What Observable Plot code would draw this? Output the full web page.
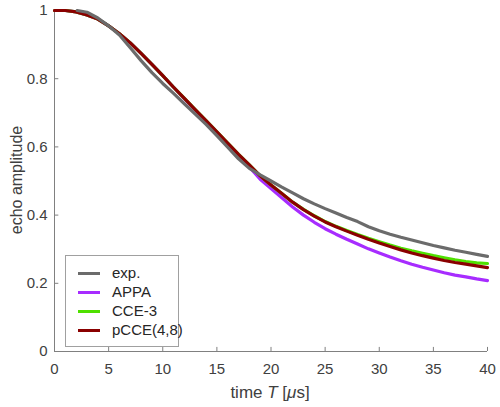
<!DOCTYPE html>
<html>
<head>
<meta charset="utf-8">
<script src="https://cdn.jsdelivr.net/npm/d3@7"></script>
<script src="https://cdn.jsdelivr.net/npm/@observablehq/plot@0.6"></script>
<style>
  body { margin: 0; background: #fff; }
  #wrap { position: relative; width: 500px; height: 407px; font-family: "Liberation Sans", Arial, sans-serif; }
  #legend { position: absolute; left: 65px; top: 255px; width: 114px; height: 92px; border: 1px solid #a0a0a0; background: #fff; box-sizing: border-box; }
  .row { position: absolute; left: 0; height: 18px; font-size: 15px; color: #262626; }
  .sw { position: absolute; left: 12px; top: 8px; width: 22px; height: 3px; }
  .lb { position: absolute; left: 46px; top: 0; line-height: 18px; white-space: nowrap; }
</style>
</head>
<body>
<div id="wrap"></div>
<script>
// time axis (μs)
const tTheory = [0,1,2,3,4,5,6,7,8,9,10,11,12,13,14,15,16,17,18,19,20,21,22,23,24,25,26,27,28,29,30,31,32,33,34,35,36,37,38,39,40];
const pcce = [1.0,1.0,0.996,0.987,0.975,0.955,0.932,0.905,0.874,0.842,0.809,0.775,0.742,0.709,0.677,0.644,0.611,0.578,0.547,0.515,0.488,0.463,0.438,0.416,0.397,0.380,0.366,0.353,0.341,0.329,0.318,0.308,0.298,0.289,0.281,0.274,0.267,0.261,0.256,0.251,0.246];
const cce3 = [1.0,1.0,0.996,0.987,0.975,0.955,0.932,0.905,0.874,0.842,0.809,0.775,0.742,0.709,0.677,0.644,0.611,0.578,0.547,0.515,0.488,0.463,0.438,0.417,0.398,0.381,0.367,0.355,0.343,0.332,0.322,0.312,0.303,0.295,0.288,0.281,0.275,0.269,0.264,0.260,0.258];
const appa = [1.0,1.0,0.996,0.987,0.975,0.955,0.932,0.905,0.874,0.842,0.809,0.775,0.741,0.708,0.675,0.642,0.608,0.574,0.541,0.505,0.478,0.451,0.424,0.400,0.379,0.360,0.344,0.329,0.315,0.301,0.289,0.277,0.266,0.256,0.247,0.239,0.231,0.224,0.219,0.213,0.208];
const tExp = [2.1,3,4,5,6,7,8,9,10,11,12,13,14,15,16,17,18,19,20,21,22,23,24,25,26,27,28,29,30,31,32,33,34,35,36,37,38,39,40];
const expv = [1.0,0.995,0.978,0.955,0.928,0.891,0.853,0.818,0.786,0.757,0.726,0.696,0.666,0.633,0.599,0.565,0.537,0.518,0.500,0.482,0.465,0.448,0.433,0.419,0.406,0.393,0.381,0.366,0.354,0.344,0.335,0.327,0.319,0.311,0.304,0.297,0.291,0.285,0.279];
const xTicks = [0,5,10,15,20,25,30,35,40];
const yTicks = [0,0.2,0.4,0.6,0.8,1];
const yTickLabels = ["0","0.2","0.4","0.6","0.8","1"];

const seriesNames = ["exp.","APPA","CCE-3","pCCE(4,8)"];
const seriesColors = ["#6b6b6b","#a72cff","#4fe000","#8a0000"];

const mk = (ts, vs) => ts.map((t, i) => ({t, v: vs[i]}));
const dExp = mk(tExp, expv), dAppa = mk(tTheory, appa), dCce = mk(tTheory, cce3), dP = mk(tTheory, pcce);

const chart = Plot.plot({
  width: 500, height: 407,
  marginLeft: 54, marginRight: 13, marginTop: 10, marginBottom: 56,
  style: {fontFamily: "Liberation Sans, Arial, sans-serif", color: "#333", background: "#fff"},
  x: {domain: [0, 40]},
  y: {domain: [0, 1]},
  marks: [
    Plot.axisX({ticks: xTicks, tickSize: 0, tickPadding: 12, label: null, fill: "#404040"}),
    Plot.axisY({ticks: yTicks, tickFormat: d => yTickLabels[yTicks.indexOf(d)], tickSize: 0, tickPadding: 7, label: null, fill: "#404040"}),
    Plot.ruleX(xTicks, {x: d => d, y1: 0, y2: 0.012, stroke: "#808080"}),
    Plot.ruleY(yTicks, {y: d => d, x1: 0, x2: 0.4, stroke: "#808080"}),
    Plot.ruleX([0], {stroke: "#808080"}),
    Plot.ruleY([0], {stroke: "#808080"}),
    Plot.line(dAppa, {x: "t", y: "v", stroke: seriesColors[1], strokeWidth: 3.2}),
    Plot.line(dCce, {x: "t", y: "v", stroke: seriesColors[2], strokeWidth: 3.2}),
    Plot.line(dP, {x: "t", y: "v", stroke: seriesColors[3], strokeWidth: 3.2}),
    Plot.line(dExp, {x: "t", y: "v", stroke: seriesColors[0], strokeWidth: 3.2})
  ]
});

const wrap = document.getElementById("wrap");
wrap.appendChild(chart);

const svg = d3.select(chart);
// enlarge tick labels
svg.selectAll("text").style("font-size", "15px");

// axis titles
const xl = svg.append("text").attr("x", 270).attr("y", 398).attr("text-anchor", "middle")
  .attr("fill", "#404040").style("font-size", "17px");
xl.append("tspan").text("time ");
xl.append("tspan").attr("font-style", "italic").text("T");
xl.append("tspan").text(" [");
xl.append("tspan").attr("font-style", "italic").text("μ");
xl.append("tspan").text("s]");
svg.append("text").attr("transform", "translate(22,180) rotate(-90)").attr("text-anchor", "middle")
  .attr("fill", "#404040").style("font-size", "16px").text("echo amplitude");

// legend
const leg = document.createElement("div");
leg.id = "legend";
seriesNames.forEach((n, i) => {
  const r = document.createElement("div");
  r.className = "row";
  r.style.top = (8 + i * 19) + "px";
  r.innerHTML = `<div class="sw" style="background:${seriesColors[i]}"></div><div class="lb">${n}</div>`;
  leg.appendChild(r);
});
wrap.appendChild(leg);
</script>
</body>
</html>
